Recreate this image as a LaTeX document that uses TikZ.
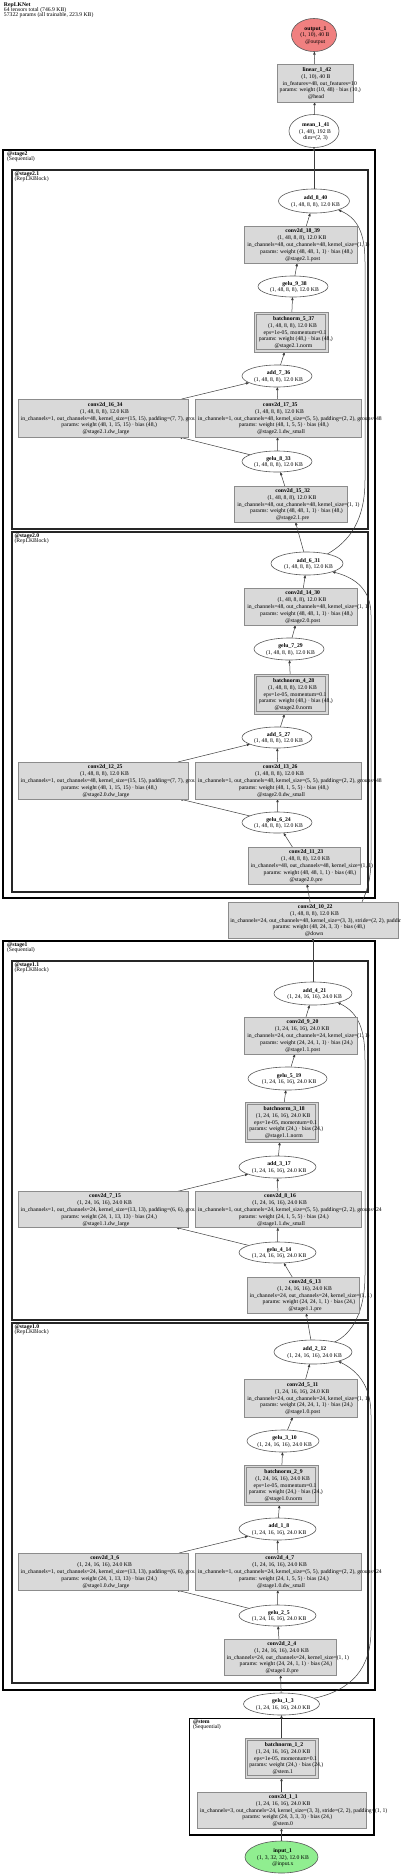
\documentclass[tikz,border=0pt]{standalone}
\usepackage{fontspec}
\setmainfont{Liberation Serif}
\usetikzlibrary{shapes.geometric,arrows.meta}
\definecolor{boxfill}{HTML}{D9D9D9}
\definecolor{boxline}{HTML}{8C8C8C}
\definecolor{elline}{HTML}{5A5A5A}
\definecolor{outfill}{HTML}{F08080}
\definecolor{infill}{HTML}{90EE90}
\definecolor{edgec}{HTML}{3C3C3C}
\newcommand\nfont{\fontsize{5.7}{6.85}\selectfont}
\newcommand\shA{(1, 48, 8, 8), 12.0 KB}
\newcommand\shB{(1, 24, 16, 16), 24.0 KB}
\pgfdeclarelayer{bg}\pgfdeclarelayer{edgelayer}\pgfsetlayers{bg,edgelayer,main}
\tikzset{
 linetxt/.style={anchor=base, inner sep=0pt, outer sep=0pt, font=\nfont, text=black},
 modbox/.style={rectangle, draw=boxline, fill=boxfill, line width=0.7pt, inner sep=0pt, outer sep=0pt},
 opell/.style={ellipse, draw=elline, line width=0.6pt, inner sep=0pt, outer sep=0pt},
 conn/.style={draw=edgec, line width=0.5pt, -{Triangle[length=3.2pt,width=2.4pt]}},
 outerclus/.style={rectangle, draw=black, line width=1.6pt, inner sep=0pt, outer sep=0pt, anchor=north west},
 innerclus/.style={rectangle, draw=black!85, line width=1.3pt, inner sep=0pt, outer sep=0pt, anchor=north west},
 labtxt/.style={anchor=base west, inner sep=0pt, outer sep=0pt, font=\nfont, text=black},
}
% one text line: name, idx, cx, y, left kern factor, text
% the line starts a little left of centre and runs further to the right
\newcommand\tln[6]{%
  \node[linetxt] (#1-#2) at (#3,{#4+2}) {\setbox0=\hbox{#6}\kern#5\wd0\box0};}
\newcommand\fivel[8]{%
  \tln{#1}{1}{#2}{#3-13.7}{0.13}{\textbf{#4}}%
  \tln{#1}{2}{#2}{#3-6.85}{0.06}{#5}%
  \tln{#1}{3}{#2}{#3}{0.13}{#6}%
  \tln{#1}{4}{#2}{#3+6.85}{0.13}{#7}%
  \tln{#1}{5}{#2}{#3+13.7}{0.13}{#8}}
\newcommand\threel[6]{%
  \tln{#1}{1}{#2}{#3-6.85}{0.13}{\textbf{#4}}%
  \tln{#1}{2}{#2}{#3}{0.06}{#5}%
  \tln{#1}{3}{#2}{#3+6.85}{0.13}{#6}}
\newcommand\twol[5]{%
  \tln{#1}{1}{#2}{#3-3.4}{0.13}{\textbf{#4}}%
  \tln{#1}{2}{#2}{#3+3.4}{0.06}{#5}}
\newcommand\modnode[5]{\node[modbox, minimum width=#4, minimum height=#5] (#1) at (#2,#3) {};}
\newcommand\bnnode[5]{\modnode{#1}{#2}{#3}{#4}{#5}%
  \draw[boxline, line width=0.6pt] ([xshift=2.3pt,yshift=-2.3pt]#1.north west) rectangle ([xshift=-2.3pt,yshift=2.3pt]#1.south east);}
\newcommand\ellnode[6]{\node[opell, fill=#6, minimum width=#4, minimum height=#5] (#1) at (#2,#3) {};}
\newcommand\clab[5]{%
  \node[labtxt] (#1-t) at (#2,{#3+5}) {\textbf{#4}};%
  \node[labtxt] (#1-s) at (#2,{#3+10}) {#5};}

\begin{document}
\begin{tikzpicture}[x=1pt,y=-1pt]
\useasboundingbox (0,0) rectangle (400,1876);
\begin{pgfonlayer}{bg}
\fill[white] (0,0) rectangle (400,1876);
\node[outerclus, minimum width=372, minimum height=748] (stage2) at (3,150) {};
\node[innerclus, minimum width=356, minimum height=359] (stage21) at (12,170) {};
\node[innerclus, minimum width=356, minimum height=360] (stage20) at (12,532) {};
\node[outerclus, minimum width=372, minimum height=749] (stage1) at (3,941) {};
\node[innerclus, minimum width=356, minimum height=359] (stage11) at (12,961) {};
\node[innerclus, minimum width=356, minimum height=360] (stage10) at (12,1323) {};
\node[outerclus, minimum width=184.5, minimum height=116.5] (stem) at (189.5,1718.5) {};
\end{pgfonlayer}

% header
\node[labtxt] (hdr1) at (4,6.3) {\textbf{RepLKNet}};
\node[labtxt] (hdr2) at (4,11.3) {64 tensors total (746.9 KB)};
\node[labtxt] (hdr3) at (4,16.3) {57322 params (all trainable, 223.9 KB)};

% cluster labels
\clab{stage2}{7}{150}{@stage2}{(Sequential)}
\clab{stage21}{14.5}{170}{@stage2.1}{(RepLKBlock)}
\clab{stage20}{14.5}{532}{@stage2.0}{(RepLKBlock)}
\clab{stage1}{7}{941}{@stage1}{(Sequential)}
\clab{stage11}{14.5}{961}{@stage1.1}{(RepLKBlock)}
\clab{stage10}{14.5}{1323}{@stage1.0}{(RepLKBlock)}
\clab{stemlab}{193}{1718.5}{@stem}{(Sequential)}

% nodes
\ellnode{nout}{314}{35}{45}{33}{outfill}
\threel{nout}{314}{35}{output\_1}{(1, 10), 40 B}{@output}

\modnode{n42}{315}{83}{76}{38}
\fivel{n42}{315}{83}{linear\_1\_42}{(1, 10), 40 B}{in\_features=48, out\_features=10}{params: weight (10, 48) · bias (10,)}{@head}

\ellnode{n41}{314}{131}{50}{33}{white}
\threel{n41}{314}{131}{mean\_1\_41}{(1, 48), 192 B}{dim=(2, 3)}

\ellnode{n40}{314}{201}{71}{24}{white}
\twol{n40}{314}{201}{add\_8\_40}{\shA}

\modnode{n39}{300.5}{244.5}{113}{37}
\fivel{n39}{300.5}{244.5}{conv2d\_18\_39}{\shA}{in\_channels=48, out\_channels=48, kernel\_size=(1, 1)}{params: weight (48, 48, 1, 1) · bias (48,)}{@stage2.1.post}

\ellnode{n38}{293}{286.5}{70}{21}{white}
\twol{n38}{293}{286.5}{gelu\_9\_38}{\shA}

\bnnode{n37}{291}{332}{74}{40}
\fivel{n37}{291}{332}{batchnorm\_5\_37}{\shA}{eps=1e-05, momentum=0.1}{params: weight (48,) · bias (48,)}{@stage2.1.norm}

\ellnode{n36}{277}{376}{70}{22}{white}
\twol{n36}{277}{376}{add\_7\_36}{\shA}

\modnode{n34}{103}{418}{170}{38}
\fivel{n34}{103}{418}{conv2d\_16\_34}{\shA}{in\_channels=1, out\_channels=48, kernel\_size=(15, 15), padding=(7, 7), groups=48}{params: weight (48, 1, 15, 15) · bias (48,)}{@stage2.1.dw\_large}
\modnode{n35}{278}{418}{166}{38}
\fivel{n35}{278}{418}{conv2d\_17\_35}{\shA}{in\_channels=1, out\_channels=48, kernel\_size=(5, 5), padding=(2, 2), groups=48}{params: weight (48, 1, 5, 5) · bias (48,)}{@stage2.1.dw\_small}

\ellnode{n33}{277}{461.5}{70}{21}{white}
\twol{n33}{277}{461.5}{gelu\_8\_33}{\shA}

\modnode{n32}{290.5}{504}{113}{36}
\fivel{n32}{290.5}{504}{conv2d\_15\_32}{\shA}{in\_channels=48, out\_channels=48, kernel\_size=(1, 1)}{params: weight (48, 48, 1, 1) · bias (48,)}{@stage2.1.pre}

\ellnode{n31}{307}{563.5}{72}{23}{white}
\twol{n31}{307}{563.5}{add\_6\_31}{\shA}

\modnode{n30}{300.5}{606.5}{113}{37}
\fivel{n30}{300.5}{606.5}{conv2d\_14\_30}{\shA}{in\_channels=48, out\_channels=48, kernel\_size=(1, 1)}{params: weight (48, 48, 1, 1) · bias (48,)}{@stage2.0.post}

\ellnode{n29}{289}{649}{70}{22}{white}
\twol{n29}{289}{649}{gelu\_7\_29}{\shA}

\bnnode{n28}{291}{694}{74}{40}
\fivel{n28}{291}{694}{batchnorm\_4\_28}{\shA}{eps=1e-05, momentum=0.1}{params: weight (48,) · bias (48,)}{@stage2.0.norm}

\ellnode{n27}{277}{737.5}{70}{21}{white}
\twol{n27}{277}{737.5}{add\_5\_27}{\shA}

\modnode{n25}{103}{780.5}{170}{37}
\fivel{n25}{103}{780.5}{conv2d\_12\_25}{\shA}{in\_channels=1, out\_channels=48, kernel\_size=(15, 15), padding=(7, 7), groups=48}{params: weight (48, 1, 15, 15) · bias (48,)}{@stage2.0.dw\_large}
\modnode{n26}{278}{780.5}{166}{37}
\fivel{n26}{278}{780.5}{conv2d\_13\_26}{\shA}{in\_channels=1, out\_channels=48, kernel\_size=(5, 5), padding=(2, 2), groups=48}{params: weight (48, 1, 5, 5) · bias (48,)}{@stage2.0.dw\_small}

\ellnode{n24}{277}{822.5}{70}{21}{white}
\twol{n24}{277}{822.5}{gelu\_6\_24}{\shA}

\modnode{n23}{304}{865.5}{112}{37}
\fivel{n23}{304}{865.5}{conv2d\_11\_23}{\shA}{in\_channels=48, out\_channels=48, kernel\_size=(1, 1)}{params: weight (48, 48, 1, 1) · bias (48,)}{@stage2.0.pre}

\modnode{n22}{313}{920}{170}{36}
\fivel{n22}{313}{920}{conv2d\_10\_22}{\shA}{in\_channels=24, out\_channels=48, kernel\_size=(3, 3), stride=(2, 2), padding=(1, 1)}{params: weight (48, 24, 3, 3) · bias (48,)}{@down}

\ellnode{n21}{313}{993.5}{78}{23}{white}
\twol{n21}{313}{993.5}{add\_4\_21}{\shB}

\modnode{n20}{300.5}{1035.5}{113}{37}
\fivel{n20}{300.5}{1035.5}{conv2d\_9\_20}{\shB}{in\_channels=24, out\_channels=24, kernel\_size=(1, 1)}{params: weight (24, 24, 1, 1) · bias (24,)}{@stage1.1.post}

\ellnode{n19}{287.5}{1078.5}{79}{23}{white}
\twol{n19}{287.5}{1078.5}{gelu\_5\_19}{\shB}

\bnnode{n18}{281.5}{1122}{73}{40}
\fivel{n18}{281.5}{1122}{batchnorm\_3\_18}{\shB}{eps=1e-05, momentum=0.1}{params: weight (24,) · bias (24,)}{@stage1.1.norm}

\ellnode{n17}{277.5}{1167}{77}{22}{white}
\twol{n17}{277.5}{1167}{add\_3\_17}{\shB}

\modnode{n15}{103}{1209.5}{170}{36}
\fivel{n15}{103}{1209.5}{conv2d\_7\_15}{\shB}{in\_channels=1, out\_channels=24, kernel\_size=(13, 13), padding=(6, 6), groups=24}{params: weight (24, 1, 13, 13) · bias (24,)}{@stage1.1.dw\_large}
\modnode{n16}{278}{1209.5}{166}{36}
\fivel{n16}{278}{1209.5}{conv2d\_8\_16}{\shB}{in\_channels=1, out\_channels=24, kernel\_size=(5, 5), padding=(2, 2), groups=24}{params: weight (24, 1, 5, 5) · bias (24,)}{@stage1.1.dw\_small}

\ellnode{n14}{277.5}{1252.5}{77}{21}{white}
\twol{n14}{277.5}{1252.5}{gelu\_4\_14}{\shB}

\modnode{n13}{303}{1295}{112}{36}
\fivel{n13}{303}{1295}{conv2d\_6\_13}{\shB}{in\_channels=24, out\_channels=24, kernel\_size=(1, 1)}{params: weight (24, 24, 1, 1) · bias (24,)}{@stage1.1.pre}

\ellnode{n12}{313}{1352}{78}{24}{white}
\twol{n12}{313}{1352}{add\_2\_12}{\shB}

\modnode{n11}{300.5}{1398}{113}{38}
\fivel{n11}{300.5}{1398}{conv2d\_5\_11}{\shB}{in\_channels=24, out\_channels=24, kernel\_size=(1, 1)}{params: weight (24, 24, 1, 1) · bias (24,)}{@stage1.0.post}

\ellnode{n10}{283}{1441}{72}{22}{white}
\twol{n10}{283}{1441}{gelu\_3\_10}{\shB}

\bnnode{n9}{281}{1485}{74}{40}
\fivel{n9}{281}{1485}{batchnorm\_2\_9}{\shB}{eps=1e-05, momentum=0.1}{params: weight (24,) · bias (24,)}{@stage1.0.norm}

\ellnode{n8}{277.5}{1529}{77}{22}{white}
\twol{n8}{277.5}{1529}{add\_1\_8}{\shB}

\modnode{n6}{103}{1571.5}{170}{37}
\fivel{n6}{103}{1571.5}{conv2d\_3\_6}{\shB}{in\_channels=1, out\_channels=24, kernel\_size=(13, 13), padding=(6, 6), groups=24}{params: weight (24, 1, 13, 13) · bias (24,)}{@stage1.0.dw\_large}
\modnode{n7}{278}{1571.5}{166}{37}
\fivel{n7}{278}{1571.5}{conv2d\_4\_7}{\shB}{in\_channels=1, out\_channels=24, kernel\_size=(5, 5), padding=(2, 2), groups=24}{params: weight (24, 1, 5, 5) · bias (24,)}{@stage1.0.dw\_small}

\ellnode{n5}{277.5}{1615.5}{77}{21}{white}
\twol{n5}{277.5}{1615.5}{gelu\_2\_5}{\shB}

\modnode{n4}{280}{1657}{112}{36}
\fivel{n4}{280}{1657}{conv2d\_2\_4}{\shB}{in\_channels=24, out\_channels=24, kernel\_size=(1, 1)}{params: weight (24, 24, 1, 1) · bias (24,)}{@stage1.0.pre}

\ellnode{n3}{281.5}{1704}{76}{22}{white}
\twol{n3}{281.5}{1704}{gelu\_1\_3}{\shB}

\bnnode{n2}{281.5}{1758}{73}{40}
\fivel{n2}{281.5}{1758}{batchnorm\_1\_2}{\shB}{eps=1e-05, momentum=0.1}{params: weight (24,) · bias (24,)}{@stem.1}

\modnode{n1}{281.5}{1810}{169}{36}
\fivel{n1}{281.5}{1810}{conv2d\_1\_1}{\shB}{in\_channels=3, out\_channels=24, kernel\_size=(3, 3), stride=(2, 2), padding=(1, 1)}{params: weight (24, 3, 3, 3) · bias (24,)}{@stem.0}

\ellnode{nin}{281.5}{1857}{73}{32}{infill}
\threel{nin}{281.5}{1857}{input\_1}{(1, 3, 32, 32), 12.0 KB}{@input.x}

% edges
\begin{pgfonlayer}{edgelayer}
\draw[conn] (nin) -- (n1);
\draw[conn] (n1) -- (n2);
\draw[conn] (n2) -- (n3);
\draw[conn] (n3) -- (n4);
\draw[conn] (n3.10) .. controls (352,1690) and (371,1668) .. (371,1630) -- (371,1415) .. controls (371,1388) and (360,1372) .. (n12.-20);
\draw[conn] (n4) -- (n5);
\draw[conn] (n5) -- (n6);
\draw[conn] (n5) -- (n7);
\draw[conn] (n6) -- (n8);
\draw[conn] (n7) -- (n8);
\draw[conn] (n8) -- (n9);
\draw[conn] (n9) -- (n10);
\draw[conn] (n10) -- (n11);
\draw[conn] (n11) -- (n12);
\draw[conn] (n12) -- (n13);
\draw[conn] (n12.25) .. controls (352,1334) and (365,1312) .. (365,1275) -- (365,1060) .. controls (365,1030) and (359,1013) .. (n21.-20);
\draw[conn] (n13) -- (n14);
\draw[conn] (n14) -- (n15);
\draw[conn] (n14) -- (n16);
\draw[conn] (n15) -- (n17);
\draw[conn] (n16) -- (n17);
\draw[conn] (n17) -- (n18);
\draw[conn] (n18) -- (n19);
\draw[conn] (n19) -- (n20);
\draw[conn] (n20) -- (n21);
\draw[conn] (n21) -- (n22);
\draw[conn] (n22) -- (n23);
\draw[conn] ([xshift=-36pt]n22.north east) .. controls (366,893) and (371,880) .. (371,860) -- (371,615) .. controls (371,590) and (356,578) .. (n31.-18);
\draw[conn] (n23) -- (n24);
\draw[conn] (n24) -- (n25);
\draw[conn] (n24) -- (n26);
\draw[conn] (n25) -- (n27);
\draw[conn] (n26) -- (n27);
\draw[conn] (n27) -- (n28);
\draw[conn] (n28) -- (n29);
\draw[conn] (n29) -- (n30);
\draw[conn] (n30) -- (n31);
\draw[conn] (n31) -- (n32);
\draw[conn] (n31.25) .. controls (350,541) and (365,520) .. (365,480) -- (365,262) .. controls (365,232) and (357,218) .. (n40.-20);
\draw[conn] (n32) -- (n33);
\draw[conn] (n33) -- (n34);
\draw[conn] (n33) -- (n35);
\draw[conn] (n34) -- (n36);
\draw[conn] (n35) -- (n36);
\draw[conn] (n36) -- (n37);
\draw[conn] (n37) -- (n38);
\draw[conn] (n38) -- (n39);
\draw[conn] (n39) -- (n40);
\draw[conn] (n40) -- (n41);
\draw[conn] (n41) -- (n42);
\draw[conn] (n42) -- (nout);
\end{pgfonlayer}
\end{tikzpicture}
\end{document}
